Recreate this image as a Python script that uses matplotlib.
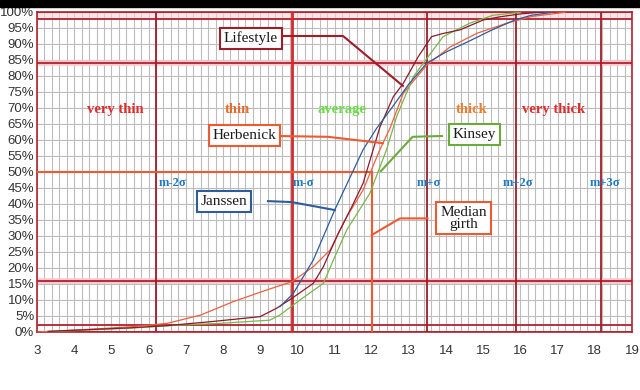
import numpy as np
import matplotlib
matplotlib.use("Agg")
import matplotlib.pyplot as plt
from matplotlib.patches import Rectangle

# cumulative share (%) against girth
janssen_x = [9.53, 9.89, 10.43, 11.0, 11.77, 12.13, 12.6, 13.0, 13.48, 14.0, 14.64, 15.2, 15.85, 16.3, 16.8]
janssen_y = [7.9, 12.0, 22.5, 38.0, 57.0, 63.6, 71.0, 77.5, 84.0, 87.5, 91.0, 94.2, 97.5, 99.0, 99.8]

lifestyle_x = [3.3, 4.5, 5.5, 6.5, 7.65, 8.5, 9.0, 9.44, 9.85, 10.43, 10.7, 11.1, 11.46, 11.77, 12.04,
               12.22, 12.58, 12.85, 13.25, 13.61, 13.92, 14.37, 15.0, 15.45, 16.0, 16.6]
lifestyle_y = [0.2, 0.8, 1.3, 2.0, 3.2, 4.2, 4.8, 7.4, 10.5, 15.2, 20.4, 30.8, 39.0, 46.5, 57.0,
               64.0, 73.5, 77.7, 86.0, 92.3, 93.3, 94.4, 97.5, 98.5, 99.4, 100.0]

herbenick_x = [3.0, 4.5, 5.6, 6.5, 7.4, 8.28, 9.17, 9.85, 10.43, 10.88, 11.33, 11.77, 12.22,
               12.49, 12.85, 13.48, 14.1, 14.82, 15.63, 16.3, 17.2]
herbenick_y = [0.0, 0.9, 1.7, 2.7, 5.3, 9.5, 13.1, 15.7, 20.4, 25.6, 36.0, 44.4, 57.0,
               63.6, 74.6, 83.4, 89.0, 93.3, 96.5, 98.6, 99.9]

kinsey_x = [3.3, 4.5, 5.5, 6.75, 7.92, 9.26, 9.53, 10.07, 10.7, 10.97, 11.33, 11.95, 12.4,
            12.67, 13.12, 13.92, 14.64, 15.27, 16.0]
kinsey_y = [0.1, 0.7, 1.2, 2.1, 2.7, 3.7, 5.3, 10.0, 15.2, 22.5, 31.9, 43.3, 57.0,
            67.3, 79.8, 92.3, 96.5, 99.0, 99.9]

# sigma marks
sigma_x = [6.2, 9.85, 13.5, 15.88, 18.16]
sigma_names = ["m-2\u03c3", "m-\u03c3", "m+\u03c3", "m+2\u03c3", "m+3\u03c3"]
sigma_text_x = [6.28, 9.88, 13.2, 15.52, 17.85]
pct_lines = [0.1, 2.3, 15.9, 84.1, 97.7, 99.9]
median_x = 12.0

regions = ["very thin", "thin", "average", "thick", "very thick"]
region_x = [5.1, 8.38, 11.2, 14.7, 16.9]
region_col = ["#e02c2c", "#e86a2a", "#66dd44", "#ee7e2e", "#e02c2c"]

fig = plt.figure(figsize=(6.4, 3.9), dpi=100)
fig.patches.append(Rectangle((0, 390 - 7), 640, 7, transform=None, color="black", zorder=10))
ax = fig.add_axes([37 / 640, 58 / 390, 595 / 640, 320 / 390])

ax.set_xlim(3, 19)
ax.set_ylim(0, 100)

# grey grid
for v in np.arange(3, 19.01, 0.2):
    ax.axvline(v, color="#bcbcbc", lw=0.8, zorder=1)
for v in range(0, 101, 5):
    ax.axhline(v, color="#bcbcbc", lw=0.8, zorder=1)

# red percentile lines
for p in pct_lines:
    if p in (15.9, 84.1):
        ax.axhline(p, color="#f4c8cc", lw=4, zorder=2)
    ax.axhline(p, color="#b3202e", lw=1.3, zorder=3)
ax.axhspan(97.7, 100, color="#f7d4d8", alpha=0.6, zorder=1.5)
for i, v in enumerate(sigma_x):
    if i == 1:
        ax.axvline(v, color="#d42a2a", lw=2, zorder=3)
    else:
        ax.axvline(v, color="#a01c28", lw=1.3, zorder=3)

# median girth
ax.plot([3, median_x], [50, 50], color="#ee5a30", lw=1.5, zorder=3)
ax.plot([median_x, median_x], [0, 50], color="#ee5a30", lw=1.5, zorder=3)

ax.plot(herbenick_x, herbenick_y, color="#ee6040", lw=0.9, zorder=4)
ax.plot(kinsey_x, kinsey_y, color="#7ab648", lw=0.9, zorder=4)
ax.plot(lifestyle_x, lifestyle_y, color="#8b1a2b", lw=0.9, zorder=4)
ax.plot(janssen_x, janssen_y, color="#2e5d9a", lw=0.9, zorder=4)

for name, x, c in zip(regions, region_x, region_col):
    ax.text(x, 69.5, name, color=c, fontsize=10.5, fontweight="bold",
            family="Liberation Serif", ha="center", va="center", zorder=5)
for name, x in zip(sigma_names, sigma_text_x):
    ax.text(x, 46.5, name, color="#1f78c0", fontsize=9, fontweight="bold",
            family="Liberation Serif", ha="left", va="center", zorder=5)

# callouts
callouts = [
    ("Lifestyle", 8.75, 91.7, "#a01c28", [9.64, 11.23, 12.84], [92.5, 92.5, 76.9]),
    ("Herbenick", 8.58, 61.4, "#ee5a30", [9.45, 10.82, 12.3], [61.25, 61.0, 59.0]),
    ("Kinsey", 14.76, 61.7, "#6aab3c", [13.89, 13.1, 12.25], [61.25, 61.0, 50.3]),
    ("Janssen", 8.03, 40.8, "#2e5d9a", [9.21, 9.85, 11.01], [40.9, 40.6, 38.1]),
    ("Median\ngirth", 14.47, 35.6, "#ee5a30", [13.5, 12.76, 12.0], [35.5, 35.5, 30.3]),
]
for label, bx, by, c, lx, ly in callouts:
    ax.plot(lx, ly, color=c, lw=1.5, zorder=6)
    ax.text(bx, by, label, fontsize=11, family="Liberation Serif", color="#1a1a1a",
            ha="center", va="center", linespacing=0.9, zorder=7,
            bbox=dict(boxstyle="square,pad=0.25", fc="white", ec=c, lw=1.5))

ax.set_xticks(range(3, 20))
ax.set_yticks(range(0, 101, 5))
ax.set_yticklabels([str(v) + "%" for v in range(0, 101, 5)])
ax.tick_params(length=0, labelsize=9.5, labelcolor="#333333")
for t in ax.get_xticklabels() + ax.get_yticklabels():
    t.set_family("Liberation Sans")
ax.tick_params(axis="y", pad=2)
ax.tick_params(axis="x", pad=9)
for s in ax.spines.values():
    s.set_color("#b3202e")
    s.set_linewidth(1.2)

plt.savefig("out.png", dpi=100)
